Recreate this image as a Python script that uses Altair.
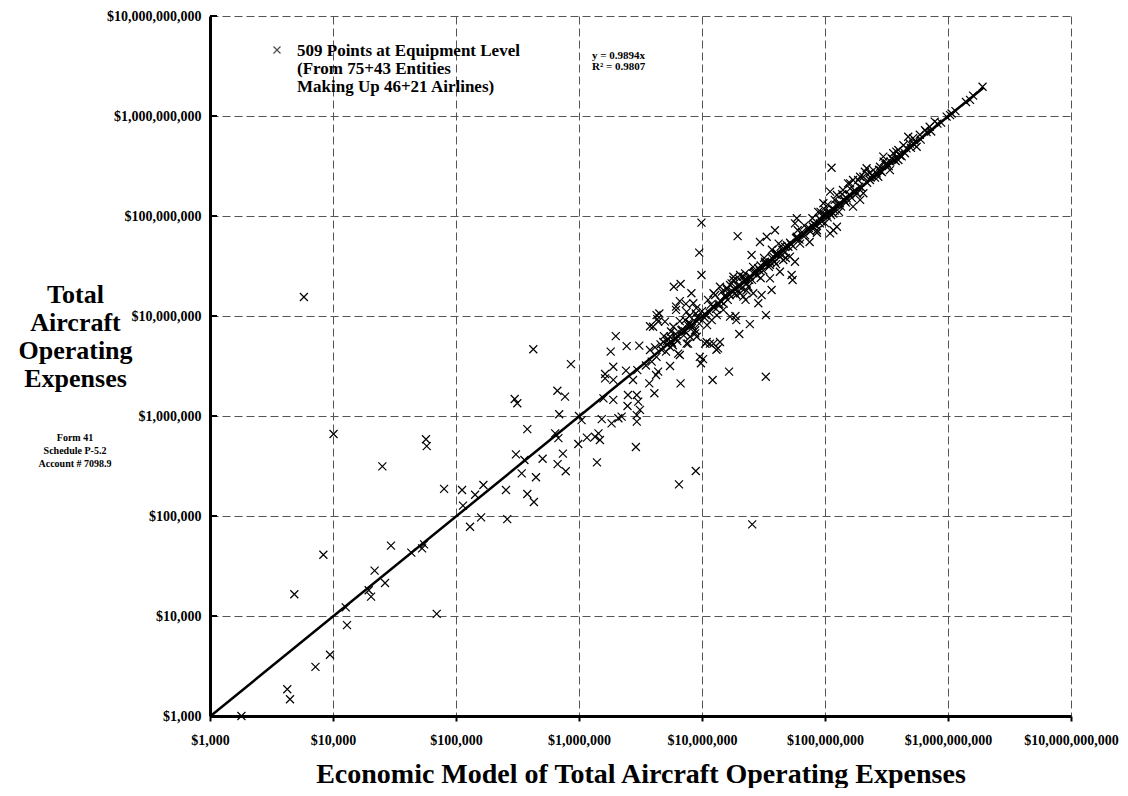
import altair as alt
import pandas as pd

x_vals = [
    1.8e3, 4.25e3, 4.47e3, 7.2e3, 9.45e3, 4.85e3, 8.35e3, 1.27e4, 1.3e4, 1.95e4,
    2.04e4, 2.18e4, 2.65e4, 2.96e4, 4.33e4, 5.3e4, 5.5e4, 6.97e4, 1.14e5, 1.3e5,
    1.6e5, 1.01e4, 2.52e4, 5.7e4, 5.78e4, 8.0e4, 1.12e5, 1.43e5, 5.8e3,
    1.67e5, 2.55e5, 2.61e5, 3.8e5, 4.3e5, 3.42e5, 4.47e5, 3.07e5, 3.6e5, 5.06e5,
    3.8e5, 6.4e5, 6.8e5, 7.4e5, 6.7e5, 7.8e5, 3.0e5, 3.15e5, 4.25e5, 6.67e5,
    7.7e5, 6.9e5, 8.6e5, 9.87e5, 1.05e6, 1.0e6, 1.16e6, 1.35e6, 1.44e6, 1.48e6,
    1.4e6, 1.53e6, 1.84e6, 2.09e6, 2.22e6, 2.9e6, 2.95e6, 2.95e6, 3.13e6, 3.03e6,
    2.95e6, 2.5e6, 2.48e6, 1.9e6, 1.9e6, 1.58e6, 1.63e6, 1.9e6, 1.81e6, 1.99e6,
    2.44e6, 2.41e6, 2.75e6, 3.09e6, 2.98e6, 3.73e6, 4.1e6, 3.78e6, 4.23e6, 4.4e6,
    5.5e6, 6.7e6, 9.8e6, 1.02e7, 1.22e7, 1.66e7, 3.3e7, 6.6e6, 4.27e6, 4.4e6,
    4.0e6, 2.01e7, 2.45e7, 2.87e7, 3.31e7, 1.87e7, 1.4e7, 1.31e7, 1.09e7, 1.24e7,
    9.6e6, 8.8e6, 8.0e6, 7.7e6, 6.4e6, 5.5e6, 4.85e6, 4.7e6, 4.27e6,
    6.5e6, 8.9e6, 2.56e7,
    1.95e7, 9.5e6, 9.9e6, 5.9e6, 6.7e6, 8.2e6, 6.6e6, 6.15e6, 7.4e6, 8.5e6,
    4.5e6, 4.33e6, 5.0e6, 5.85e6, 6.15e6, 7.5e6, 8.9e6, 7.3e6, 8.0e6, 8.8e6,
    9.06e6, 7.5e6, 5.5e6, 1.06e7, 1.16e7, 1.35e7, 1.1e7, 1.2e7, 1.32e7, 1.12e7,
    1.28e7, 1.45e7, 1.59e7, 1.36e7, 1.49e7, 1.69e7, 1.9e7, 2.17e7, 1.9e7, 1.8e7,
    2.04e7, 2.24e7, 1.69e7, 2.26e7, 1.63e6, 4.15e6, 3.78e6,
    1.13e8, 9.9e6, 5.9e7, 5.7e7, 5.35e7, 5.45e7, 4.3e7, 3.57e7, 3.68e7, 3.05e7,
    2.53e7, 2.96e7, 3.36e7, 3.92e7, 5.9e7, 6.27e7, 5.04e7, 5.19e7, 5.7e7, 4.05e7,
    3.8e7, 4.58e7, 3.25e7, 3.57e7, 2.87e7, 2.61e7, 2.17e7, 1.74e7, 1.8e7, 1.4e7,
    1.24e7, 2.38e7, 2.61e7, 2.04e7, 7.5e7, 8.6e7, 9.1e7, 8.0e7, 8.8e7, 9.7e7,
    1.0e8, 1.03e8, 1.17e8, 1.25e8, 1.17e8, 1.1e8, 1.1e8, 1.25e8, 1.4e8, 1.54e8,
    1.69e8, 1.93e8, 2.11e8, 2.18e8, 1.69e8, 1.93e8, 2.05e8, 1.32e8, 1.5e8,
    1.91e9, 1.51e9, 1.04e9, 9.75e8, 1.07e9, 7.8e8, 7.1e8, 6.5e8, 5.9e8, 5.2e8,
    4.75e8, 4.9e8, 5.56e8, 4.34e8, 3.95e8, 3.59e8, 3.48e8, 2.98e8, 3.17e8, 2.8e8,
    2.47e8, 2.63e8, 2.05e8, 1.86e8, 1.6e8, 2.32e8, 2.71e8, 3.37e8, 3.95e8, 4.47e8,
    # dense band along the fit line
    3.5e6, 3.9e6, 4.6e6, 5.1e6, 5.3e6, 5.8e6, 6.1e6, 6.3e6, 6.9e6, 7.1e6,
    7.8e6, 8.3e6, 9.2e6, 9.5e6, 1.0e7, 5.6e6, 4.9e6, 6.6e6, 7.9e6, 9.0e6,
    1.05e7, 1.15e7, 1.18e7, 1.3e7, 1.42e7, 1.5e7, 1.55e7, 1.62e7, 1.75e7, 1.85e7,
    1.95e7, 2.1e7, 2.2e7, 2.3e7, 2.45e7, 2.55e7, 2.7e7, 2.8e7, 3.0e7, 3.15e7,
    3.35e7, 3.5e7, 3.7e7, 3.9e7, 4.1e7, 4.3e7, 4.5e7, 4.7e7, 4.9e7, 4.4e7,
    3.2e7, 2.6e7, 2.0e7, 1.6e7, 3.7e7, 4.2e7, 4.8e7, 4.0e7, 3.0e7, 2.3e7,
    5.2e7, 5.5e7, 5.8e7, 6.2e7, 6.5e7, 6.9e7, 7.2e7, 7.6e7, 8.1e7, 8.5e7,
    9.0e7, 9.4e7, 9.8e7, 1.05e8, 1.08e8, 1.12e8, 1.15e8, 1.2e8, 1.28e8, 1.35e8,
    1.42e8, 1.48e8, 1.58e8, 1.65e8, 1.75e8, 1.82e8, 1.9e8, 6.8e7, 7.9e7, 9.2e7,
    6.0e7, 1.05e8, 1.2e8, 1.38e8, 1.6e8, 1.0e8, 8.6e7, 1.3e8,
    2.2e8, 2.4e8, 2.55e8, 2.75e8, 2.9e8, 3.1e8, 3.3e8, 3.55e8, 3.75e8, 4.0e8,
    4.2e8, 4.6e8, 5.0e8, 5.4e8, 6.0e8, 6.7e8, 7.3e8, 8.2e8, 8.8e8, 2.3e8,
    3.0e8, 3.8e8, 1.15e9, 1.4e9, 1.6e9,
    5.2e6, 5.7e6, 6.2e6, 6.8e6, 7.3e6, 7.7e6, 8.4e6, 9.3e6, 1.07e7, 1.22e7,
    1.38e7, 1.52e7, 1.68e7, 1.82e7, 2.05e7, 2.25e7, 2.42e7, 2.65e7, 2.95e7, 3.25e7,
    3.6e7, 3.95e7, 4.35e7, 4.75e7, 5.3e7, 5.9e7, 6.6e7, 7.4e7, 8.3e7, 9.6e7,
    1.1e8, 1.24e8, 1.45e8, 1.7e8, 1.98e8, 2.35e8, 2.85e8, 3.4e8, 4.1e8, 5.2e8,
]
y_vals = [
    1.0e3, 1.85e3, 1.47e3, 3.1e3, 4.1e3, 1.65e4, 4.1e4, 1.22e4, 8.1e3, 1.81e4,
    1.56e4, 2.84e4, 2.14e4, 5.05e4, 4.3e4, 4.75e4, 5.2e4, 1.05e4, 1.27e5, 7.8e4,
    9.7e4, 6.6e5, 3.14e5, 5.85e5, 5.0e5, 1.87e5, 1.82e5, 1.63e5, 1.55e7,
    2.04e5, 1.82e5, 9.3e4, 1.66e5, 1.38e5, 2.67e5, 2.44e5, 4.14e5, 3.63e5, 3.74e5,
    7.4e5, 6.7e5, 6.0e5, 4.2e5, 3.3e5, 2.8e5, 1.48e6, 1.34e6, 4.65e6, 1.79e6,
    1.56e6, 1.04e6, 3.3e6, 5.25e5, 9.1e5, 1.0e6, 6.07e5, 6.2e5, 6.7e5, 5.75e5,
    3.44e5, 9.3e5, 8.45e5, 9.5e5, 9.85e5, 4.9e5, 8.8e5, 1.02e6, 1.15e6, 1.39e6,
    1.62e6, 1.62e6, 1.26e6, 1.45e6, 2.3e6, 1.5e6, 2.63e6, 3.11e6, 4.4e6, 6.3e6,
    5.0e6, 2.84e6, 2.29e6, 5.05e6, 2.88e6, 2.12e6, 1.69e6, 4.57e6, 2.57e6, 2.78e6,
    3.16e6, 2.12e6, 3.37e6, 3.7e6, 2.29e6, 2.78e6, 2.47e6, 4.07e6, 1.02e7, 8.8e6,
    7.8e6, 6.6e6, 8.3e6, 1.34e7, 1.02e7, 1.0e7, 5.5e6, 4.6e6, 5.5e6, 5.3e6,
    3.9e6, 6.7e6, 6.2e6, 5.3e6, 4.2e6, 4.9e6, 5.5e6, 4.6e6, 3.9e6,
    2.07e5, 2.82e5, 8.26e4,
    6.3e7, 4.3e7, 2.57e7, 1.96e7, 2.09e7, 1.69e7, 1.41e7, 1.24e7, 1.32e7, 1.34e7,
    1.06e7, 9.3e6, 8.8e6, 7.8e6, 1.15e7, 1.1e7, 1.06e7, 9.1e6, 8.45e6, 7.2e6,
    6.2e6, 5.3e6, 6.2e6, 5.3e6, 5.3e6, 4.75e6, 8.1e6, 9.1e6, 1.02e7, 1.45e7,
    1.62e7, 1.75e7, 1.85e7, 1.29e7, 1.15e7, 9.85e6, 9.1e6, 1.56e7, 1.62e7, 2.29e7,
    2.57e7, 2.67e7, 2.04e7, 1.45e7, 2.38e6, 4.86e6, 7.9e6,
    3.04e8, 8.6e7, 9.5e7, 8.45e7, 2.57e7, 2.29e7, 2.77e7, 2.38e7, 1.82e7, 1.62e7,
    4.07e7, 5.5e7, 6.2e7, 7.2e7, 6.2e7, 5.3e7, 4.93e7, 3.92e7, 3.49e7, 4.24e7,
    3.92e7, 3.63e7, 3.49e7, 3.24e7, 3.0e7, 2.67e7, 2.47e7, 2.12e7, 2.47e7, 1.96e7,
    1.69e7, 1.96e7, 1.69e7, 1.69e7, 5.5e7, 7.2e7, 8.45e7, 7.8e7, 1.1e8, 1.34e8,
    1.15e8, 1.02e8, 1.06e8, 7.8e7, 7.2e7, 6.7e7, 1.75e8, 1.62e8, 1.82e8, 2.12e8,
    2.29e8, 2.47e8, 2.77e8, 3.0e8, 1.24e8, 1.45e8, 1.69e8, 1.34e8, 1.5e8,
    1.96e9, 1.45e9, 1.02e9, 9.85e8, 1.06e9, 8.8e8, 7.8e8, 7.2e8, 6.5e8, 6.0e8,
    6.2e8, 5.3e8, 4.93e8, 5.1e8, 4.57e8, 4.24e8, 3.78e8, 3.92e8, 3.37e8, 3.11e8,
    2.88e8, 2.67e8, 2.47e8, 2.29e8, 2.12e8, 2.29e8, 2.47e8, 2.88e8, 3.63e8, 4.24e8,
    # dense band along the fit line
    3.2e6, 3.5e6, 5.2e6, 4.4e6, 5.9e6, 5.1e6, 6.6e6, 5.6e6, 7.3e6, 6.4e6,
    8.6e6, 7.6e6, 9.6e6, 8.4e6, 1.12e7, 7.0e6, 6.3e6, 8.9e6, 1.0e7, 1.2e7,
    9.6e6, 1.08e7, 1.3e7, 1.18e7, 1.4e7, 1.33e7, 1.6e7, 1.45e7, 1.78e7, 1.68e7,
    2.0e7, 1.9e7, 2.25e7, 2.1e7, 2.5e7, 2.3e7, 2.8e7, 2.55e7, 3.2e7, 2.85e7,
    3.4e7, 3.1e7, 3.8e7, 3.5e7, 4.2e7, 3.9e7, 4.6e7, 4.3e7, 5.1e7, 5.0e7,
    3.8e7, 3.1e7, 2.35e7, 1.9e7, 4.6e7, 5.3e7, 3.8e7, 3.3e7, 2.4e7, 1.8e7,
    5.4e7, 5.0e7, 6.0e7, 5.8e7, 6.9e7, 6.4e7, 7.5e7, 7.0e7, 8.4e7, 8.0e7,
    9.4e7, 8.8e7, 1.04e8, 9.7e7, 1.12e8, 1.02e8, 1.2e8, 1.13e8, 1.3e8, 1.24e8,
    1.47e8, 1.36e8, 1.64e8, 1.52e8, 1.8e8, 1.68e8, 1.97e8, 8.0e7, 9.5e7, 1.1e8,
    7.2e7, 1.3e8, 1.45e8, 1.65e8, 1.88e8, 8.5e7, 6.8e7, 1.1e8,
    2.15e8, 2.55e8, 2.42e8, 2.9e8, 2.75e8, 3.25e8, 3.15e8, 3.7e8, 3.55e8, 4.15e8,
    3.95e8, 4.75e8, 4.8e8, 5.6e8, 5.8e8, 6.9e8, 7.0e8, 8.4e8, 8.6e8, 2.7e8,
    3.5e8, 4.4e8, 1.12e9, 1.38e9, 1.6e9,
    5.6e6, 5.4e6, 5.9e6, 7.2e6, 7.0e6, 8.1e6, 8.0e6, 9.9e6, 1.02e7, 1.25e7,
    1.32e7, 1.58e7, 1.62e7, 1.88e7, 2.0e7, 2.35e7, 2.3e7, 2.75e7, 2.85e7, 3.35e7,
    3.45e7, 4.1e7, 4.15e7, 4.9e7, 5.2e7, 6.1e7, 6.4e7, 7.6e7, 8.1e7, 9.9e7,
    1.06e8, 1.28e8, 1.4e8, 1.76e8, 1.92e8, 2.42e8, 2.8e8, 3.5e8, 4.0e8, 5.3e8,
]

# ---- fitted trend line y = 0.9894x ----
fit_slope = 0.9894
fit_x = [1.0e3, 1.95e9]
fit_y = [v * fit_slope for v in fit_x]

tick_values = [1e3, 1e4, 1e5, 1e6, 1e7, 1e8, 1e9, 1e10]
legend_lines = ["509 Points at Equipment Level", "(From 75+43 Entities", "Making Up 46+21 Airlines)"]
eq_lines = ["y = 0.9894x", "R\u00b2 = 0.9807"]
note_lines = ["Form 41", "Schedule P-5.2", "Account # 7098.9"]
y_title = ["Total", "Aircraft", "Operating", "Expenses"]
x_title = "Economic Model of Total Aircraft Operating Expenses"

FONT = "Liberation Serif"
XSHAPE = "M-1,-1L1,1M-1,1L1,-1"

pts = pd.DataFrame({"x": x_vals, "y": y_vals})
fit = pd.DataFrame({"x": fit_x, "y": fit_y})
one = pd.DataFrame({"a": [0]})
ticks_df = pd.DataFrame({"v": tick_values})

xscale = alt.Scale(type="log", domain=[1e3, 1e10], nice=False)
yscale = alt.Scale(type="log", domain=[1e3, 1e10], nice=False)

x_axis = alt.Axis(
    values=tick_values, format="$,.0f", title=x_title, grid=True,
    gridDash=[8, 4], gridColor="#555555", gridWidth=1,
    domainColor="black", domainWidth=3, ticks=True, tickSize=5, tickColor="black", tickWidth=2,
    labelFont=FONT, labelFontSize=14, labelFontWeight="bold", labelColor="black",
    labelPadding=12, labelFlush=False, labelOverlap=False,
    titleFont=FONT, titleFontSize=28, titleFontWeight="bold", titleColor="black",
    titleY=66, titleBaseline="alphabetic",
)
y_axis = alt.Axis(
    values=tick_values, format="$,.0f", title=y_title, grid=True,
    gridDash=[8, 4], gridColor="#555555", gridWidth=1,
    domainColor="black", domainWidth=3, ticks=False, tickSize=0,
    labelFont=FONT, labelFontSize=14, labelFontWeight="bold", labelColor="black",
    labelPadding=9, labelFlush=False, labelOverlap=False,
    titleFont=FONT, titleFontSize=26, titleFontWeight="bold", titleColor="black",
    titleAngle=0, titleAlign="center", titleBaseline="alphabetic",
    titleX=-135, titleY=286, titleLineHeight=28,
)

points = alt.Chart(pts).mark_point(
    shape=XSHAPE, filled=False, color="black", strokeWidth=1.2, size=64, opacity=1
).encode(
    x=alt.X("x:Q", scale=xscale, axis=x_axis),
    y=alt.Y("y:Q", scale=yscale, axis=y_axis),
)

line = alt.Chart(fit).mark_line(color="black", strokeWidth=2.5).encode(
    x=alt.X("x:Q", scale=xscale),
    y=alt.Y("y:Q", scale=yscale),
)

ytick_marks = alt.Chart(ticks_df).mark_rule(color="black", strokeWidth=2).encode(
    y=alt.Y("v:Q", scale=yscale),
    x=alt.value(0),
    x2=alt.value(7),
)

legend_symbol = alt.Chart(one).mark_point(
    shape=XSHAPE, filled=False, color="black", strokeWidth=1.2, size=49
).encode(x=alt.value(67), y=alt.value(34))

legend_text = alt.Chart(one).mark_text(
    text=legend_lines, font=FONT, fontSize=17, fontWeight="bold", align="left",
    baseline="alphabetic", lineHeight=18, color="black"
).encode(x=alt.value(87), y=alt.value(40))

eq_text = alt.Chart(one).mark_text(
    text=eq_lines, font=FONT, fontSize=11, fontWeight="bold", align="left",
    baseline="alphabetic", lineHeight=11, color="black"
).encode(x=alt.value(382), y=alt.value(43))

note_text = alt.Chart(one).mark_text(
    text=note_lines, font=FONT, fontSize=10, fontWeight="bold", align="center",
    baseline="alphabetic", lineHeight=13, color="black"
).encode(x=alt.value(-135), y=alt.value(425))

chart = alt.layer(
    points, line, ytick_marks, legend_symbol, legend_text, eq_text, note_text
).properties(
    width=861, height=700,
    padding={"left": 202, "top": 8, "right": 49, "bottom": 72},
    autosize=alt.AutoSizeParams(type="none"),
    background="white",
).configure_view(stroke=None)

chart.save("out.html", embed_options={"renderer": "svg", "actions": False})
